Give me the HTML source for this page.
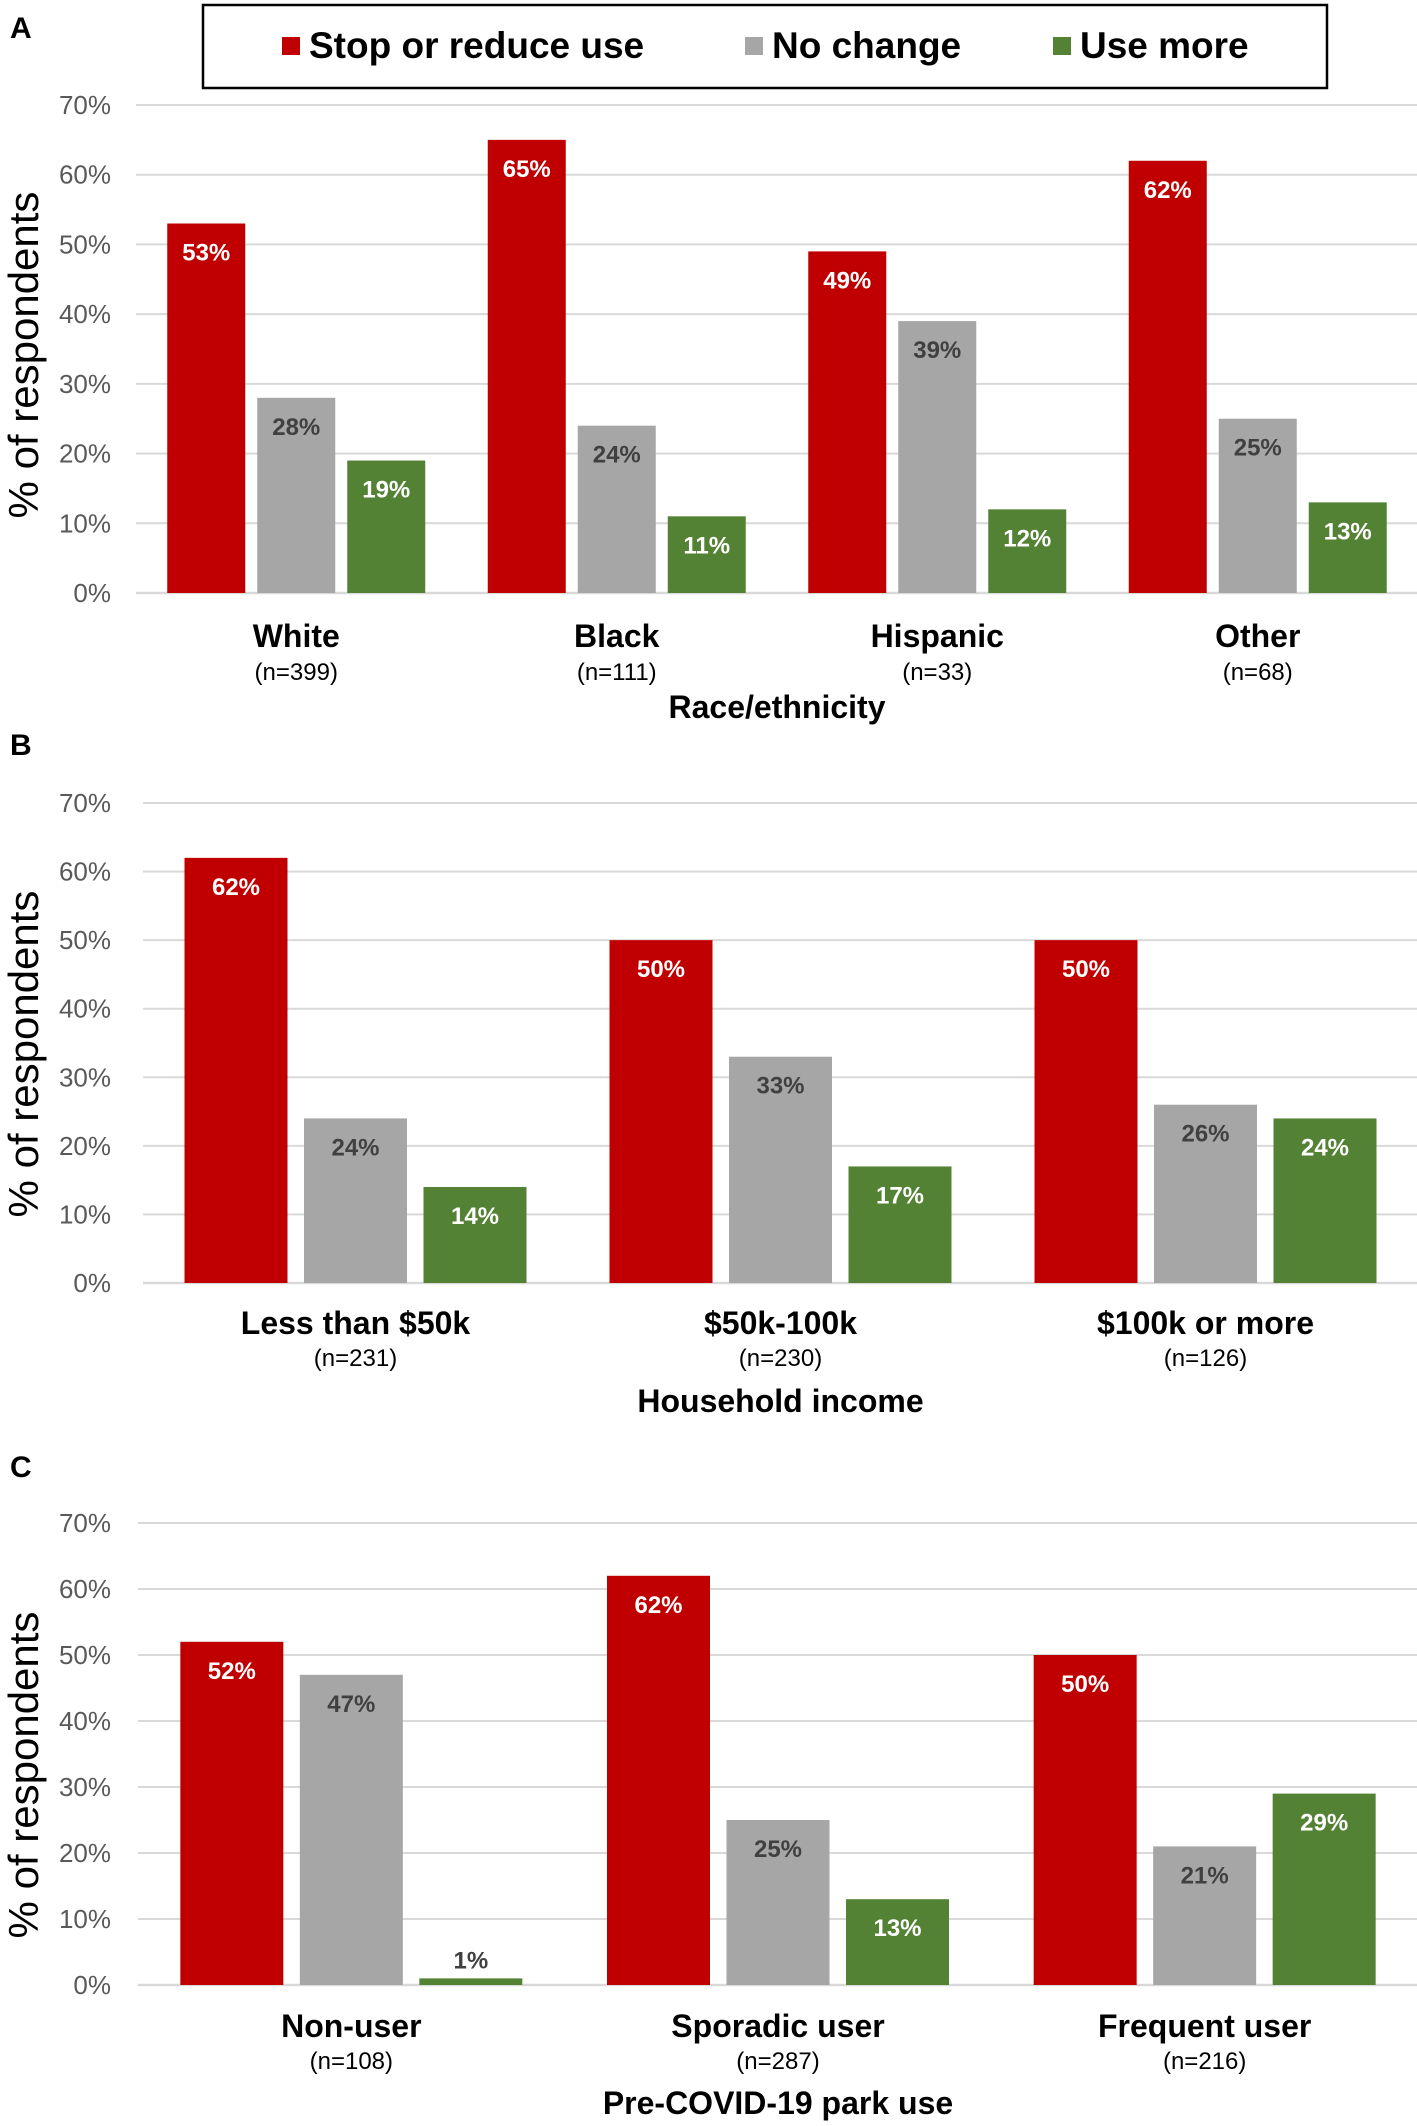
<!DOCTYPE html>
<html><head><meta charset="utf-8">
<style>
html,body{margin:0;padding:0;background:#fff;}
svg{display:block;font-family:"Liberation Sans",Arial,sans-serif;}
</style></head>
<body>
<svg id="chart" width="1417" height="2126" viewBox="0 0 1417 2126" xmlns="http://www.w3.org/2000/svg">
  <g>
    <rect x="203" y="5" width="1124" height="83" fill="#fff" stroke="#000" stroke-width="2.5"/>
    <rect x="282" y="37" width="18" height="18" fill="#C00000"/>
    <text x="309" y="58" font-size="37" font-weight="bold" fill="#000">Stop or reduce use</text>
    <rect x="745" y="37" width="18" height="18" fill="#A6A6A6"/>
    <text x="772" y="58" font-size="37" font-weight="bold" fill="#000">No change</text>
    <rect x="1053" y="37" width="18" height="18" fill="#548235"/>
    <text x="1080" y="58" font-size="37" font-weight="bold" fill="#000">Use more</text>
  </g>
</svg>
<script>
const ticks = [0,10,20,30,40,50,60,70];
const tickLabels = ["0%","10%","20%","30%","40%","50%","60%","70%"];
const seriesNames = ["Stop or reduce use","No change","Use more"];

const catsA = ["White","Black","Hispanic","Other"];
const nA = ["(n=399)","(n=111)","(n=33)","(n=68)"];
const stopA = [53,65,49,62];
const noChangeA = [28,24,39,25];
const moreA = [19,11,12,13];

const catsB = ["Less than $50k","$50k-100k","$100k or more"];
const nB = ["(n=231)","(n=230)","(n=126)"];
const stopB = [62,50,50];
const noChangeB = [24,33,26];
const moreB = [14,17,24];

const catsC = ["Non-user","Sporadic user","Frequent user"];
const nC = ["(n=108)","(n=287)","(n=216)"];
const stopC = [52,62,50];
const noChangeC = [47,25,21];
const moreC = [1,13,29];

const NS = "http://www.w3.org/2000/svg";
const svg = document.getElementById('chart');
const colors = ["#C00000","#A6A6A6","#548235"];
const labelColors = ["#fff","#404040","#fff"];
const keys = ["stop","nochange","usemore"];

function mk(tag, attrs, parent){
  const e = document.createElementNS(NS, tag);
  for (const k in attrs) e.setAttribute(k, attrs[k]);
  (parent||svg).appendChild(e);
  return e;
}

function panel(cfg, cats, ns, series){
  const g = mk('g', {});
  
  
  const y = v => cfg.y0 - (v/70)*(cfg.y0 - cfg.y70);
  const groupW = (cfg.x1 - cfg.x0)/cats.length;
  const xc = i => cfg.x0 + groupW*(i+0.5);

  const letter = mk('text', {x:10, y:cfg.letterY, 'font-size':30, 'font-weight':'bold', fill:'#000'}, g);
  letter.textContent = cfg.id.toUpperCase();
  
  

  ticks.forEach((t, i) => {
    const line = mk('line', {x1:cfg.x0, x2:cfg.x1, y1:y(t), y2:y(t), stroke:'#D9D9D9', 'stroke-width': t===0 ? 2.5 : 2}, g);
    
    
    const tl = mk('text', {x:111, y:y(t)+9, 'font-size':26, fill:'#595959', 'text-anchor':'end'}, g);
    tl.textContent = tickLabels[i];
    
    
  });

  const yt = mk('text', {x:0, y:0, 'font-size':42, fill:'#000', 'text-anchor':'middle',
    transform:'translate(38,' + cfg.yTitleY + ') rotate(-90)'}, g);
  yt.textContent = '% of respondents';
  
  

  cats.forEach((c, i) => {
    series.forEach((vals, s) => {
      const cx = xc(i) + (s-1)*cfg.stride;
      const v = vals[i];
      const r = mk('rect', {x:cx - cfg.bw/2, y:y(v), width:cfg.bw, height:y(0)-y(v), fill:colors[s]}, g);
      
      
      const inside = (y(0)-y(v)) > 45;
      const lbl = mk('text', {x:cx, y: inside ? y(v)+37 : y(v)-10, 'font-size':24, 'font-weight':'bold',
        fill: inside ? labelColors[s] : '#404040', 'text-anchor':'middle'}, g);
      lbl.textContent = v + '%';
      
      
    });
    const cl = mk('text', {x:xc(i), y:cfg.catY, 'font-size':32, 'font-weight':'bold', fill:'#000', 'text-anchor':'middle'}, g);
    cl.textContent = c;
    
    
    const nl = mk('text', {x:xc(i), y:cfg.nY, 'font-size':24, fill:'#000', 'text-anchor':'middle'}, g);
    nl.textContent = ns[i];
    
    
  });

  const xt = mk('text', {x:(cfg.x0+cfg.x1)/2, y:cfg.titleY, 'font-size':32, 'font-weight':'bold', fill:'#000', 'text-anchor':'middle'}, g);
  xt.textContent = cfg.title;
  
  
}

panel({id:'a', x0:136, x1:1418, y70:105, y0:593, bw:78, stride:90, letterY:38, yTitleY:355,
  catY:647, nY:680, titleY:718, title:'Race/ethnicity'}, catsA, nA, [stopA, noChangeA, moreA]);
panel({id:'b', x0:143, x1:1418, y70:803, y0:1283, bw:103, stride:119.5, letterY:755, yTitleY:1054,
  catY:1334, nY:1366, titleY:1412, title:'Household income'}, catsB, nB, [stopB, noChangeB, moreB]);
panel({id:'c', x0:138, x1:1418, y70:1523, y0:1985, bw:103, stride:119.5, letterY:1477, yTitleY:1775,
  catY:2037, nY:2069, titleY:2114, title:'Pre-COVID-19 park use'}, catsC, nC, [stopC, noChangeC, moreC]);
</script>
</body></html>
